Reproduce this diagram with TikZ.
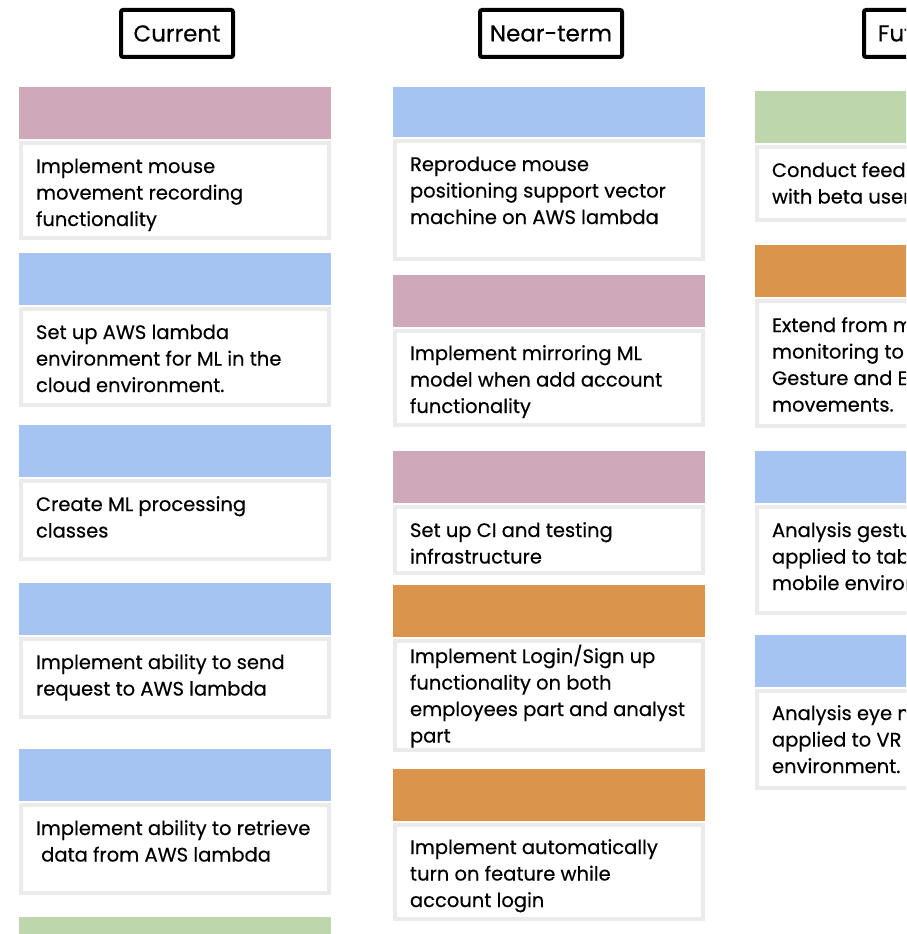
\documentclass[tikz,border=0pt]{standalone}
\usepackage{fontspec}
\setmainfont{Poppins}[FakeBold=0.4]
\definecolor{cpink}{HTML}{CFA9BA}
\definecolor{cblue}{HTML}{A6C4F2}
\definecolor{corange}{HTML}{DA944C}
\definecolor{cgreen}{HTML}{BED6AC}
\definecolor{cgray}{HTML}{EBEBEB}
\tikzset{
  bar/.style={anchor=north west, inner sep=0pt, outer sep=0pt, minimum width=312pt, fill=#1, draw=none},
  card/.style={anchor=north west, inner sep=0pt, outer sep=0pt, draw=cgray, line width=4pt, fill=white, minimum width=308pt},
  cardtext/.style={anchor=north west, inner sep=0pt, outer sep=0pt, align=left, font=\fontsize{19.5}{26.5}\selectfont},
  header/.style={draw=black, line width=4pt, rounded corners=2pt, fill=white, inner sep=0pt, font=\fontsize{23}{28}\selectfont}
}
% #1 name, #2 x, #3 bar top, #4 bar height, #5 box bottom, #6 colour, #7 first baseline, #8 text
\newcommand\kcard[8]{%
  \node[bar=#6, minimum height=#4pt] (#1bar) at (#2,#3) {};
  \pgfmathsetmacro\kbb{#3+#4}%
  \pgfmathsetmacro\kbh{#5-2-(\kbb+4)}%
  \node[card, minimum height=\kbh pt] (#1box) at ({#2+2},{\kbb+4}) {};
  \node[cardtext] (#1txt) at ({#2+17},{#7-20}) {\rule{0pt}{20pt}#8};
}
\begin{document}
\begin{tikzpicture}[x=1pt,y=-1pt]
\useasboundingbox (0,0) rectangle (906,934);
\clip (0,0) rectangle (906,934);
% headers
\node[header, minimum width=112pt, minimum height=47pt, anchor=north west] (hcur) at (119,8) {Current};
\node[header, minimum width=142pt, minimum height=47pt, anchor=north west] (hnear) at (478,8) {Near-term};
\node[header, minimum width=100pt, minimum height=47pt, anchor=north west] (hfut) at (862,8) {Future};
% column 1
\kcard{a1}{19}{87}{52}{240}{cpink}{173}{Implement mouse\\movement recording\\functionality}
\kcard{a2}{19}{253}{52}{407}{cblue}{339}{Set up AWS lambda\\environment for ML in the\\cloud environment.}
\kcard{a3}{19}{425}{52}{561}{cblue}{511}{Create ML processing\\classes}
\kcard{a4}{19}{583}{52}{719}{cblue}{669}{Implement ability to send\\request to AWS lambda}
\kcard{a5}{19}{749}{52}{895}{cblue}{835}{Implement ability to retrieve\\\ data from AWS lambda}
\node[bar=cgreen, minimum height=60pt] (a6bar) at (19,917) {};
% column 2
\kcard{b1}{393}{87}{50}{261}{cblue}{171}{Reproduce mouse\\positioning support vector\\machine on AWS lambda}
\kcard{b2}{393}{275}{52}{427}{cpink}{360}{Implement mirroring ML\\model when add account\\functionality}
\kcard{b3}{393}{451}{52}{575}{cpink}{537}{Set up CI and testing\\infrastructure}
\kcard{b4}{393}{585}{52}{752}{corange}{663}{Implement Login/Sign up\\functionality on both\\employees part and analyst\\part}
\kcard{b5}{393}{769}{52}{921}{corange}{854}{Implement automatically\\turn on feature while\\account login}
% column 3
\kcard{c1}{755}{91}{52}{222}{cgreen}{177}{Conduct feedback\\with beta users}
\kcard{c2}{755}{245}{52}{428}{corange}{332}{Extend from mouse\\monitoring to Hand\\Gesture and Eye\\movements.}
\kcard{c3}{755}{451}{52}{615}{cblue}{537}{Analysis gesture\\applied to tablet and\\mobile environment.}
\kcard{c4}{755}{635}{52}{790}{cblue}{720}{Analysis eye movement\\applied to VR\\environment.}
\end{tikzpicture}
\end{document}
